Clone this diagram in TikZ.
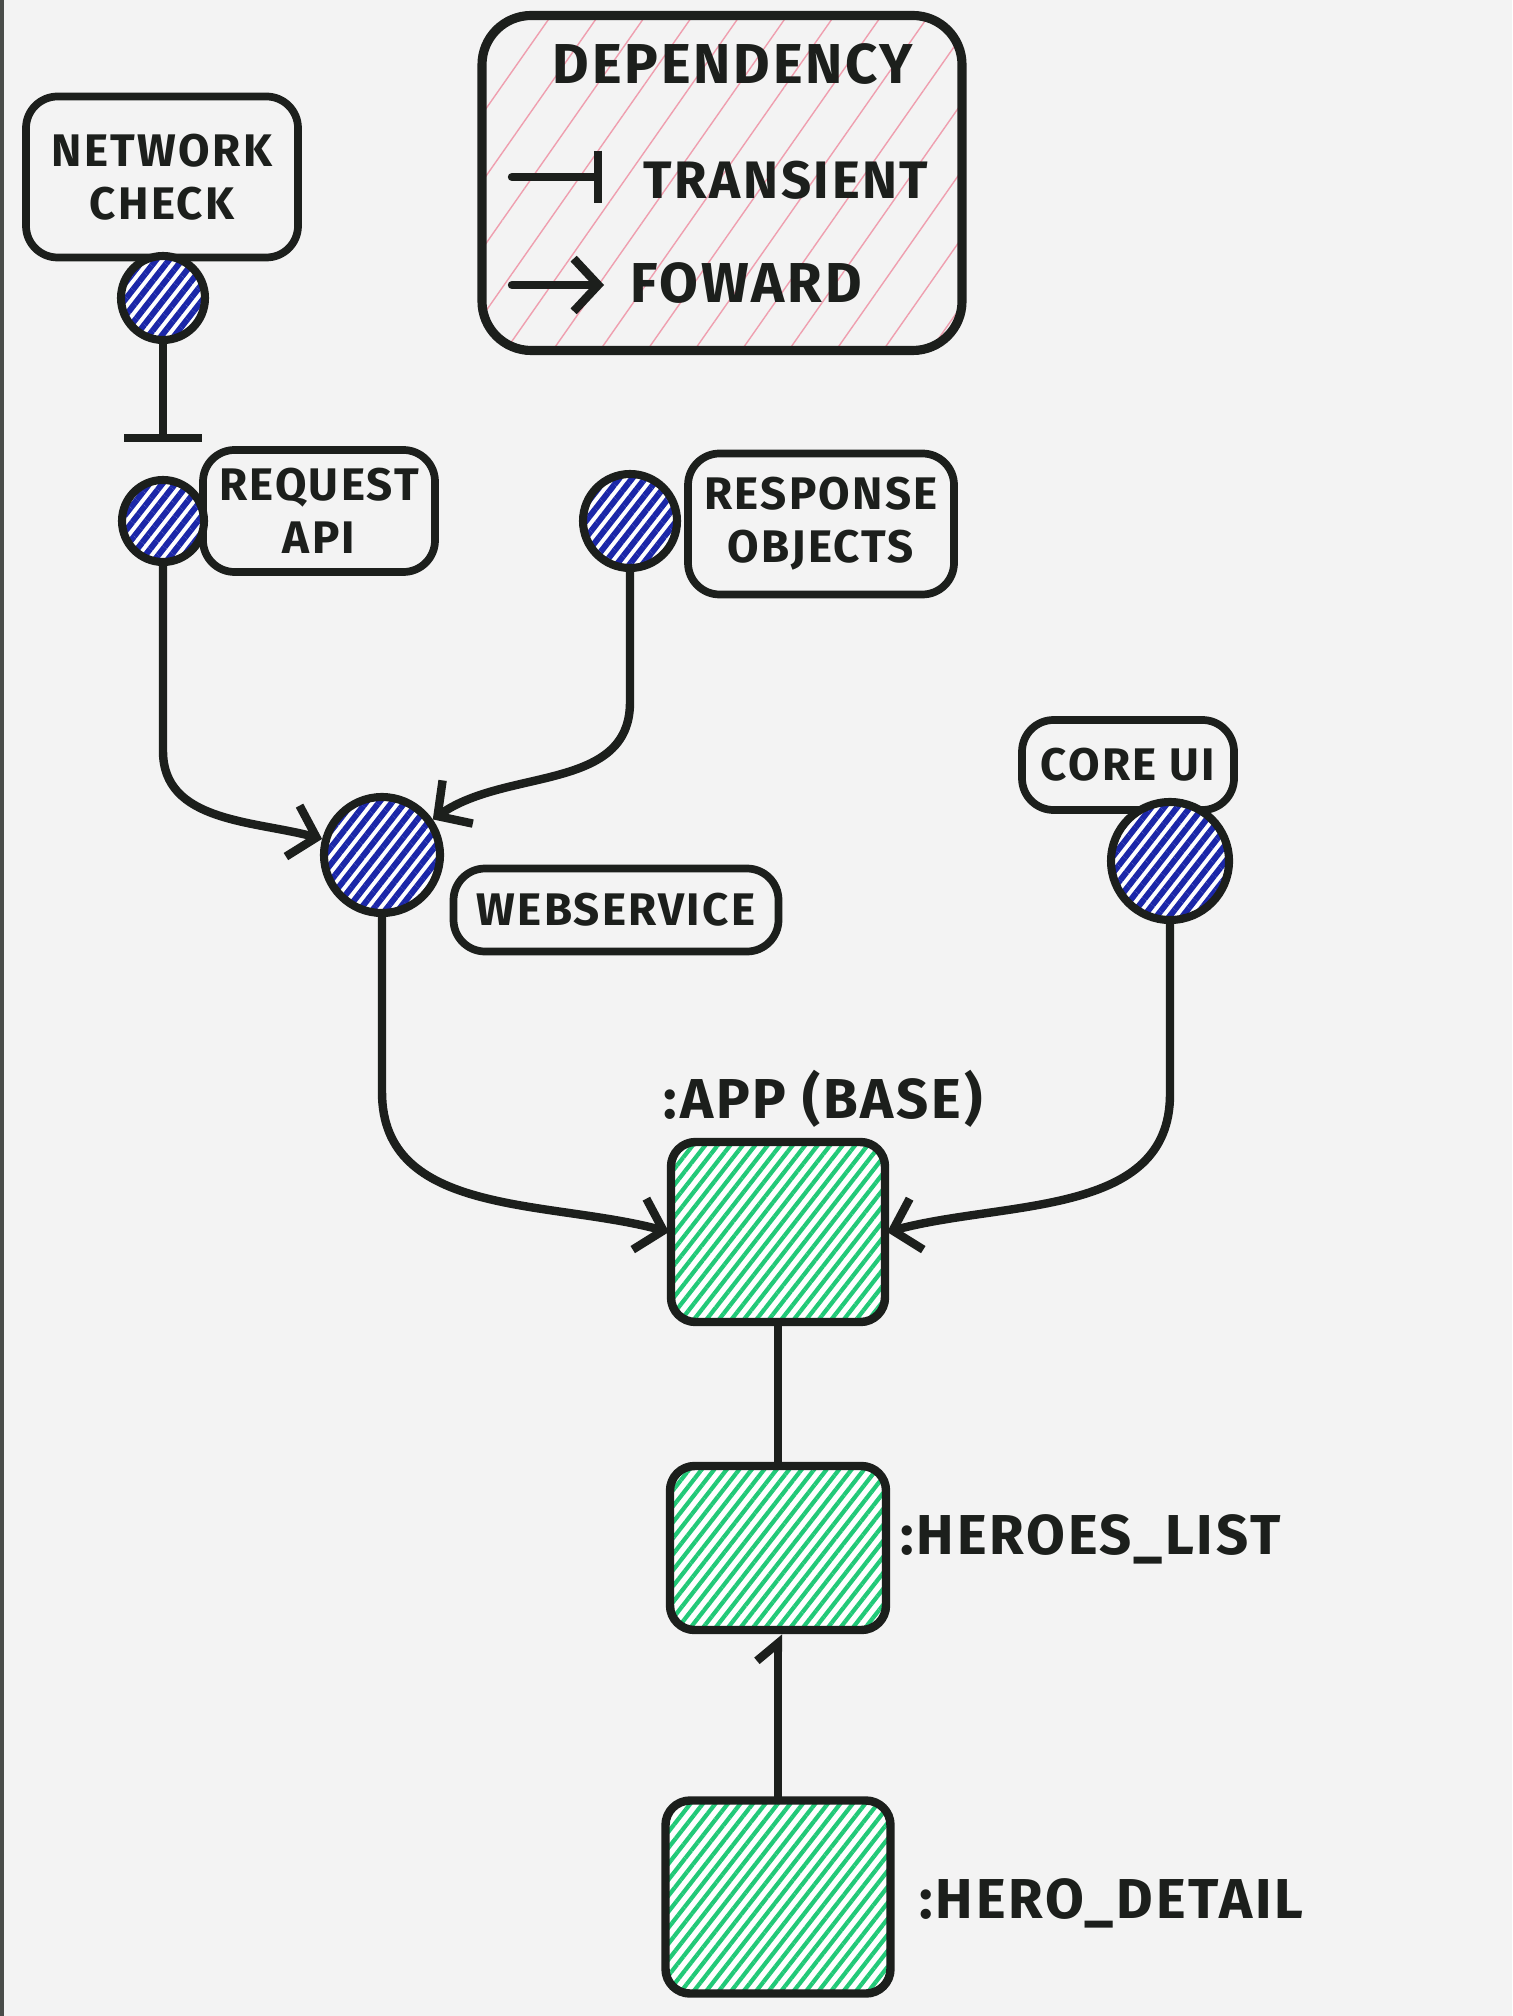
\documentclass[tikz,border=0pt]{standalone}
\usepackage{fontspec}
\setmainfont{Fira Sans}[LetterSpace=5]
\usepackage{tikz}
\usetikzlibrary{arrows.meta}
\usetikzlibrary{patterns.meta}
\usetikzlibrary{calc}

\definecolor{paper}{HTML}{F3F3F3}
\definecolor{ink}{HTML}{1C1F1C}
\definecolor{inkblue}{HTML}{1B27A8}
\definecolor{hatchgreen}{HTML}{22C978}
\definecolor{hatchred}{HTML}{E2506E}

\begin{document}
\begin{tikzpicture}
    \tikzstyle{edge}  = [line width=2.4pt, draw=ink, line cap=round]
    \tikzstyle{fedge} = [edge, -{Straight Barb[length=7pt,width=15pt]}]
    \tikzstyle{tedge} = [edge, -{Bar[width=22pt]}]
    \tikzstyle{lbl}=[
      font=\fontsize{13}{15}\selectfont\bfseries,
      text=ink,
      align=center,
      inner sep=0pt,
    ]
    \tikzstyle{biglbl}=[
      lbl,
      font=\fontsize{16}{17}\selectfont\bfseries,
    ]
    \tikzstyle{box}=[
      lbl,
      draw=ink,
      line width=2.2pt,
      rounded corners=9pt,
      fill=paper,
    ]
    \tikzstyle{dot}=[
      circle,
      draw=ink,
      line width=2.3pt,
      preaction={fill=white},
      pattern={Lines[angle=52,distance=2.9pt,line width=1.7pt]},
      pattern color=inkblue,
    ]
    \tikzstyle{module}=[
      rectangle,
      draw=ink,
      line width=2.4pt,
      rounded corners=7pt,
      preaction={fill=white},
      pattern={Lines[angle=52,distance=2.8pt,line width=1.2pt]},
      pattern color=hatchgreen,
    ]
    
    \useasboundingbox (0,0) rectangle (15.12,-20.16);
    \fill[paper] (0,0) rectangle (15.12,-20.16);
    \fill[ink!80] (0,0) rectangle (0.035,-20.16);
    
    \coordinate (legendAnchor) at (7.22,-1.83);
    \coordinate (netAnchor) at (1.63,-2.98);
    \coordinate (appAnchor) at (7.78,-12.32);
    
    % legend
    {
      \node[box, rounded corners=14pt, line width=2.6pt, minimum width=4.8cm, minimum height=3.35cm,
        preaction={fill=paper}, pattern={Lines[angle=55,distance=11pt,line width=0.4pt]}, pattern color=hatchred!55]
        (legend) at (legendAnchor) {};
      \node[biglbl] (legendTitle) at ([xshift=0.11cm, yshift=1.19cm] legendAnchor) {DEPENDENCY};
      
      \coordinate (tStart) at ([xshift=-2.10cm, yshift=0.06cm] legendAnchor);
      \coordinate (tEnd) at ([xshift=-1.20cm, yshift=0.06cm] legendAnchor);
      \node[biglbl, font=\fontsize{15}{16}\selectfont\bfseries] (tText) at ([xshift=0.64cm, yshift=0.03cm] legendAnchor) {TRANSIENT};
      
      \coordinate (fStart) at ([xshift=-2.10cm, yshift=-1.02cm] legendAnchor);
      \coordinate (fEnd) at ([xshift=-1.18cm, yshift=-1.02cm] legendAnchor);
      \node[biglbl] (fText) at ([xshift=0.24cm, yshift=-1.00cm] legendAnchor) {FOWARD};
      
      \draw[edge, -{Bar[width=15pt]}] (tStart)--(tEnd);
      \draw[fedge] (fStart)--(fEnd);
    }
    
    % services
    {
      \node[box, minimum width=2.72cm, minimum height=1.61cm] (netbox) at ([xshift=-0.01cm, yshift=1.21cm] netAnchor) {NETWORK\\CHECK};
      \node[dot, minimum size=0.84cm] (netdot) at (netAnchor) {};
      
      \node[box, minimum width=2.32cm, minimum height=1.22cm] (reqbox) at ([xshift=1.56cm, yshift=-2.13cm] netAnchor) {REQUEST\\API};
      \node[dot, minimum size=0.82cm] (reqdot) at ([xshift=0cm, yshift=-2.23cm] netAnchor) {};
      
      \node[box, minimum width=2.66cm, minimum height=1.41cm] (respbox) at ([xshift=6.58cm, yshift=-2.26cm] netAnchor) {RESPONSE\\OBJECTS};
      \node[dot, minimum size=0.94cm] (respdot) at ([xshift=4.67cm, yshift=-2.23cm] netAnchor) {};
      
      \node[box, minimum width=3.25cm, minimum height=0.83cm] (websvcbox) at ([xshift=4.53cm, yshift=-6.12cm] netAnchor) {WEBSERVICE};
      \node[dot, minimum size=1.16cm] (websvc) at ([xshift=2.19cm, yshift=-5.57cm] netAnchor) {};
      
      \node[box, minimum width=2.12cm, minimum height=0.90cm] (corebox) at ([xshift=9.65cm, yshift=-4.67cm] netAnchor) {CORE UI};
      \node[dot, minimum size=1.18cm] (coredot) at ([xshift=10.07cm, yshift=-5.63cm] netAnchor) {};
      
      \draw[tedge, shorten >=0.34cm] (netdot)--(reqdot);
      \draw[fedge] (reqdot.south) -- ++(0,-1.85) to[out=-90,in=165] (websvc);
      \draw[fedge] (respdot.south) -- ++(0,-1.30) to[out=-90,in=35] (websvc);
    }
    
    % app modules
    {
      \node[module, minimum width=2.14cm, minimum height=1.80cm] (app) at (appAnchor) {};
      \node[biglbl, anchor=center] (appText) at ([xshift=0.45cm, yshift=1.33cm] appAnchor) {:APP (BASE)};
      
      \node[module, minimum width=2.16cm, minimum height=1.64cm] (heroes) at ([xshift=0cm, yshift=-3.16cm] appAnchor) {};
      \node[biglbl, anchor=west] (heroesText) at ([xshift=1.22cm, yshift=-3.07cm] appAnchor) {:HEROES\_LIST};
      
      \node[module, minimum width=2.25cm, minimum height=1.93cm] (detail) at ([xshift=0cm, yshift=-6.65cm] appAnchor) {};
      \node[biglbl, anchor=west] (detailText) at ([xshift=1.41cm, yshift=-6.71cm] appAnchor) {:HERO\_DETAIL};
      
      \draw[fedge] (websvc.south) -- ++(0,-1.75) to[out=-90,in=165] (app.west);
      \draw[fedge] (coredot.south) -- ++(0,-1.70) to[out=-90,in=15] (app.east);
      \draw[edge] (app)--(heroes);
      \draw[edge, -{Straight Barb[left,length=5pt,width=12pt]}] (detail)--(heroes);
    }
  \end{tikzpicture}
\end{document}
